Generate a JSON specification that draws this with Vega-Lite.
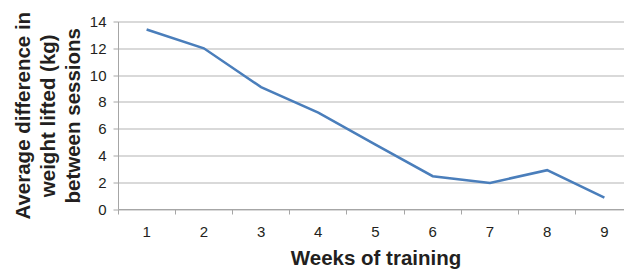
{
  "$schema": "https://vega.github.io/schema/vega-lite/v6.json",
  "autosize": "none",
  "padding": {"left": 118, "top": 21.5, "right": 0, "bottom": 63},
  "width": 506,
  "height": 187.5,
  "background": "white",
  "config": {
    "view": {"stroke": null},
    "font": "Liberation Sans",
    "axis": {
      "labelFont": "Liberation Sans",
      "titleFont": "Liberation Sans",
      "labelColor": "#231f20",
      "titleColor": "#231f20",
      "domainColor": "#a6a6a6",
      "tickColor": "#a6a6a6",
      "gridColor": "#b3b3b3",
      "labelFontSize": 15,
      "titleFontSize": 20.5,
      "titleFontWeight": "bold"
    }
  },
  "data": {
    "values": [
      {"week": "1", "diff": 13.4},
      {"week": "2", "diff": 12.0},
      {"week": "3", "diff": 9.1},
      {"week": "4", "diff": 7.2},
      {"week": "5", "diff": 4.8},
      {"week": "6", "diff": 2.45},
      {"week": "7", "diff": 1.95},
      {"week": "8", "diff": 2.9},
      {"week": "9", "diff": 0.85}
    ]
  },
  "mark": {"type": "line", "color": "#4a7ebb", "strokeWidth": 2.5},
  "encoding": {
    "x": {
      "field": "week",
      "type": "ordinal",
      "scale": {"type": "band", "paddingInner": 0, "paddingOuter": 0, "range": [0, 515]},
      "axis": {
        "title": "Weeks of training",
        "labelAngle": 0,
        "bandPosition": 0,
        "labelOffset": 0,
        "tickSize": 5,
        "labelPadding": 10,
        "titlePadding": 9,
        "grid": false
      }
    },
    "y": {
      "field": "diff",
      "type": "quantitative",
      "scale": {"domain": [0, 14]},
      "axis": {
        "title": ["Average difference in", "weight lifted (kg)", "between sessions"],
        "titleLineHeight": 25,
        "values": [0, 2, 4, 6, 8, 10, 12, 14],
        "tickSize": 5,
        "labelPadding": 7,
        "titlePadding": 6,
        "grid": true
      }
    }
  }
}
